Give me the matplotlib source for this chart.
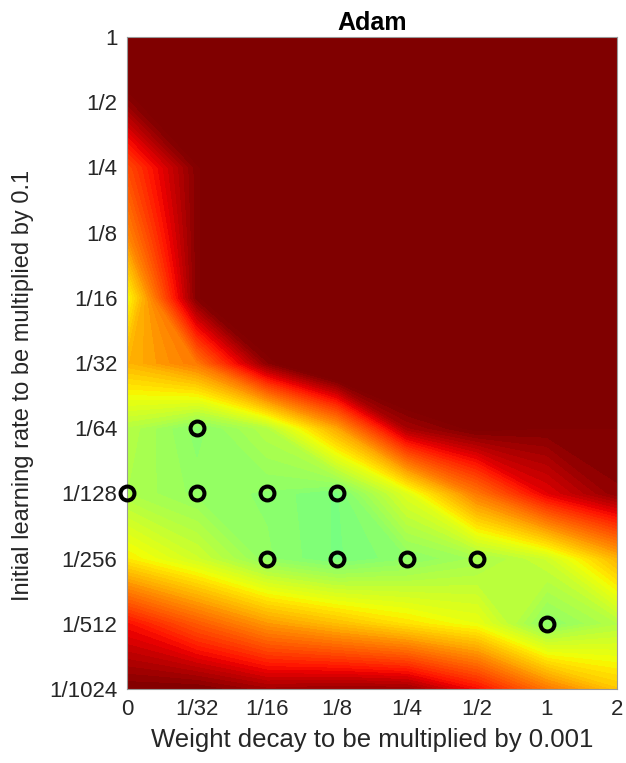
import numpy as np
import matplotlib
matplotlib.use("Agg")
import matplotlib.pyplot as plt
from matplotlib.colors import ListedColormap

plt.rcParams["font.family"] = ["Liberation Sans", "DejaVu Sans"]

# grid axes: weight decay (x 0.001) and initial learning rate (x 0.1)
wd_labels = ["0", "1/32", "1/16", "1/8", "1/4", "1/2", "1", "2"]
lr_labels = ["1/1024", "1/512", "1/256", "1/128", "1/64", "1/32",
             "1/16", "1/8", "1/4", "1/2", "1"]

# normalised final loss per (lr row, wd column); values >= 1 saturate
loss_1_1024 = [1.00, 1.00, 0.93, 0.95, 0.94, 0.78, 0.55, 0.38]
loss_1_512 = [0.78, 0.62, 0.48, 0.40, 0.32, 0.25, 0.02, 0.12]
loss_1_256 = [0.30, 0.18, 0.03, -0.03, 0.02, 0.08, 0.18, 0.42]
loss_1_128 = [0.10, 0.04, 0.02, -0.03, 0.22, 0.55, 0.82, 0.97]
loss_1_64 = [0.12, 0.01, 0.12, 0.45, 0.92, 1.02, 1.00, 1.00]
loss_1_32 = [0.42, 0.55, 0.97, 1.20, 1.20, 1.20, 1.20, 1.20]
loss_1_16 = [0.26, 0.99, 1.20, 1.20, 1.20, 1.20, 1.20, 1.20]
loss_1_8 = [0.52, 0.99, 1.20, 1.20, 1.20, 1.20, 1.20, 1.20]
loss_1_4 = [0.65, 0.99, 1.20, 1.20, 1.20, 1.20, 1.20, 1.20]
loss_1_2 = [0.96, 1.20, 1.20, 1.20, 1.20, 1.20, 1.20, 1.20]
loss_1 = [1.20, 1.20, 1.20, 1.20, 1.20, 1.20, 1.20, 1.20]

# best runs marked with circles: (wd index, lr index)
best_wd = [0, 1, 1, 2, 2, 3, 3, 4, 5, 6]
best_lr = [3, 4, 3, 3, 2, 3, 2, 2, 2, 1]

Z = np.array([loss_1_1024, loss_1_512, loss_1_256, loss_1_128, loss_1_64,
              loss_1_32, loss_1_16, loss_1_8, loss_1_4, loss_1_2, loss_1])
x = np.arange(len(wd_labels))
y = np.arange(len(lr_labels))

# upper half of jet: green -> yellow -> red -> dark red
jet = plt.get_cmap("jet")
cmap = ListedColormap(jet(np.linspace(0.4875, 1.0, 256)))
cmap.set_over(jet(1.0))

fig = plt.figure(figsize=(6.26, 7.63), dpi=100)
ax = fig.add_axes([127 / 626, 74 / 763, 490 / 626, 652 / 763])

levels = np.linspace(-0.05, 1.0, 43)
ax.contourf(x, y, Z, levels=levels, cmap=cmap, extend="max")

ax.plot(best_wd, best_lr, "o", ms=10, mfc="none", mec="black", mew=2.9,
        clip_on=False, zorder=5)

ax.set_xlim(0, len(wd_labels) - 1)
ax.set_ylim(0, len(lr_labels) - 1)
ax.set_xticks(x)
ax.set_xticklabels(wd_labels)
ax.set_yticks(y)
ax.set_yticklabels(lr_labels)
ax.tick_params(length=0, labelsize=16, colors="#262626", pad=7)

for s in ax.spines.values():
    s.set_color("#999999")
    s.set_linewidth(0.8)

ax.set_xlabel("Weight decay to be multiplied by 0.001", fontsize=18.5,
              color="#262626", labelpad=6)
ax.set_ylabel("Initial learning rate to be multiplied by 0.1", fontsize=17,
              color="#262626")
ax.yaxis.set_label_coords(-0.19, 0.465)
ax.set_title("Adam", fontsize=18, fontweight="bold", pad=5)

fig.savefig("out.png", dpi=100)
